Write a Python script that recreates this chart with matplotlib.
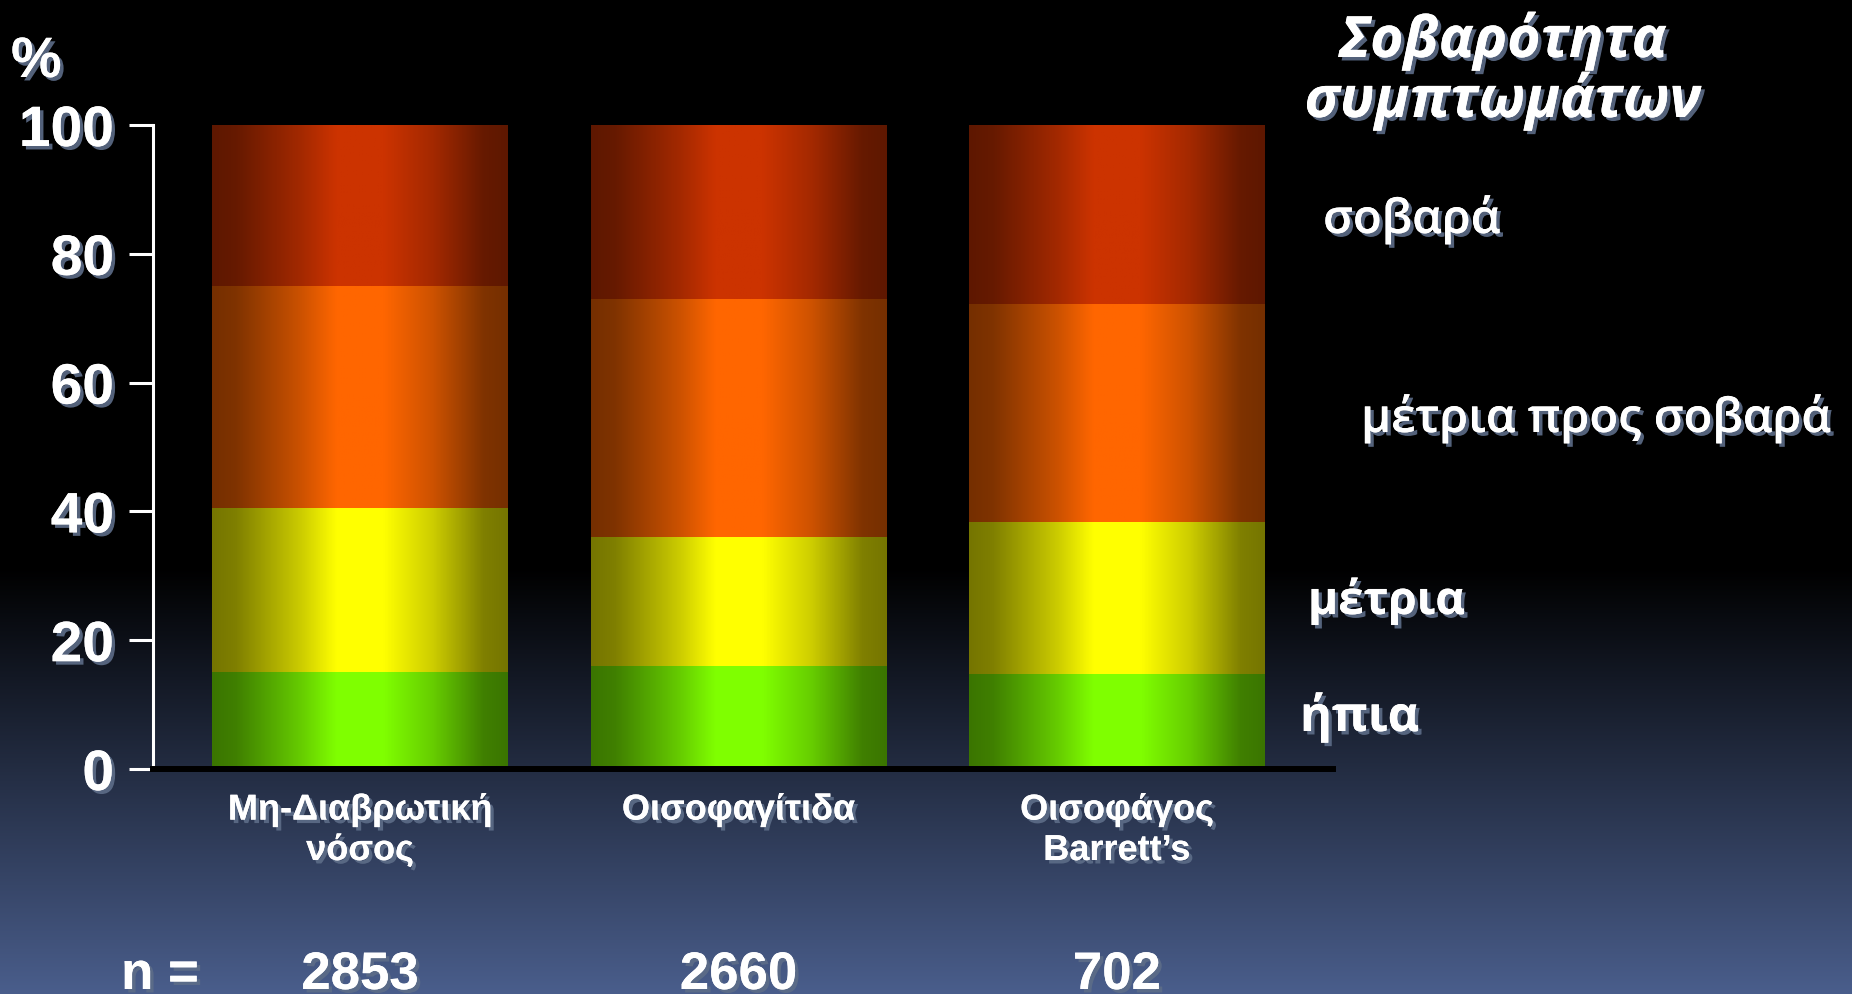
import numpy as np
import matplotlib
matplotlib.use("Agg")
import matplotlib.pyplot as plt
import matplotlib.patheffects as pe
from matplotlib import font_manager
from matplotlib.transforms import blended_transform_factory

# data (percent of patients per symptom severity)
groups = ["Μη-Διαβρωτική\nνόσος", "Οισοφαγίτιδα", "Οισοφάγος\nBarrett’s"]
n_values = ["2853", "2660", "702"]
mild = [15.0, 16.0, 14.7]
moderate = [25.5, 20.0, 23.7]
mod_severe = [34.5, 37.0, 33.8]
severe = [25.0, 27.0, 27.8]
levels = ["ήπια", "μέτρια", "μέτρια προς σοβαρά", "σοβαρά"]
legend_title = "Σοβαρότητα\nσυμπτωμάτων"

names = {f.name for f in font_manager.fontManager.ttflist}
sans = "Liberation Sans"
greek = "Open Sans" if "Open Sans" in names else "DejaVu Sans"

W, H = 1852, 994
fig = plt.figure(figsize=(W / 100, H / 100), dpi=100)
fig.patch.set_facecolor("black")

# background: black on top, fading to slate blue at the bottom
bg = fig.add_axes([0, 0, 1, 1], zorder=-10)
rows = np.arange(H)
t = np.clip((rows - 567) / (H - 567), 0, 1)
bottom_col = np.array([74, 94, 140]) / 255
grad = t[:, None, None] * bottom_col[None, None, :] * np.ones((1, 2, 1))
bg.imshow(grad, aspect="auto", extent=[0, 1, 0, 1], origin="upper")
bg.axis("off")

ax = fig.add_axes([153 / W, 225 / H, 1180 / W, 644 / H])
ax.set_facecolor("none")

shadow = [pe.withSimplePatchShadow(offset=(2.5, -2.5), shadow_rgbFace="#5d6d88", alpha=0.9), pe.Normal()]

# horizontal shading profile of the cylinders
u = np.linspace(0, 1, 200)
prof = np.interp(u, [0, 0.08, 0.3, 0.42, 0.58, 0.75, 0.92, 1.0],
                 [0.46, 0.5, 0.8, 1.0, 1.0, 0.8, 0.5, 0.46])

seg_colors = [(0.50, 1.0, 0.0), (1.0, 1.0, 0.0), (1.0, 0.40, 0.0), (0.80, 0.20, 0.0)]
series = [mild, moderate, mod_severe, severe]

x = np.arange(len(groups))
width = 0.78
bottoms = np.zeros(len(groups))
for vals, col in zip(series, seg_colors):
    bars = ax.bar(x, vals, width, bottom=bottoms, color="none", edgecolor="none")
    img = (prof[:, None] * np.array(col)[None, :])[None, :, :]
    for p in bars.patches:
        im = ax.imshow(img, aspect="auto", zorder=1,
                       extent=[p.get_x(), p.get_x() + p.get_width(), p.get_y(), p.get_y() + p.get_height()])
        im.set_clip_path(p)
    bottoms += np.array(vals)

ax.set_xlim(-0.547, 2.571)
ax.set_ylim(0, 100)

for s in ["top", "right"]:
    ax.spines[s].set_visible(False)
ax.spines["left"].set_color("white")
ax.spines["left"].set_linewidth(2.2)
ax.spines["bottom"].set_color("black")
ax.spines["bottom"].set_linewidth(4.3)
ax.spines["bottom"].set_zorder(5)

ax.set_yticks([0, 20, 40, 60, 80, 100])
ax.tick_params(axis="y", colors="white", length=17, width=2.2, pad=11)
for lab in ax.get_yticklabels():
    lab.set_fontfamily(sans)
    lab.set_fontweight("bold")
    lab.set_fontsize(41)
    lab.set_path_effects(shadow)

ax.set_xticks(x)
ax.set_xticklabels(groups, fontfamily=sans, fontweight="bold", fontsize=26,
                   color="white", linespacing=1.2)
ax.tick_params(axis="x", length=0, pad=17)
for lab in ax.get_xticklabels():
    lab.set_path_effects(shadow)

fig.text(11 / W, 1 - 77 / H, "%", fontfamily=sans, fontweight="bold", fontsize=41,
         color="white", va="baseline", path_effects=shadow)

# n row
tr = blended_transform_factory(ax.transData, fig.transFigure)
for xi, nv in zip(x, n_values):
    ax.text(xi, 5 / H, nv, transform=tr, ha="center", va="baseline", fontfamily=sans,
            fontweight="bold", fontsize=38, color="white", path_effects=shadow, clip_on=False)
fig.text(160 / W, 5 / H, "n =", ha="center", va="baseline", fontfamily=sans,
         fontweight="bold", fontsize=38, color="white", path_effects=shadow)

# legend-like labels on the right
fig.text(1503 / W, 1 - 11 / H, legend_title, ha="center", va="top", fontfamily=greek,
         fontweight="bold", fontstyle="italic", fontsize=41, color="white",
         linespacing=1.0, path_effects=shadow)
lab_style = [(1300, 731, 35, "bold"), (1308, 614, 33, "bold"),
             (1361, 432, 34, 600), (1323, 233, 34, 600)]
for txt, (px, py, fs, fw) in zip(levels, lab_style):
    fig.text(px / W, 1 - py / H, txt, ha="left", va="baseline", fontfamily=greek,
             fontweight=fw, fontsize=fs, color="white", path_effects=shadow)

fig.savefig("out.png", dpi=100, facecolor=fig.get_facecolor())
